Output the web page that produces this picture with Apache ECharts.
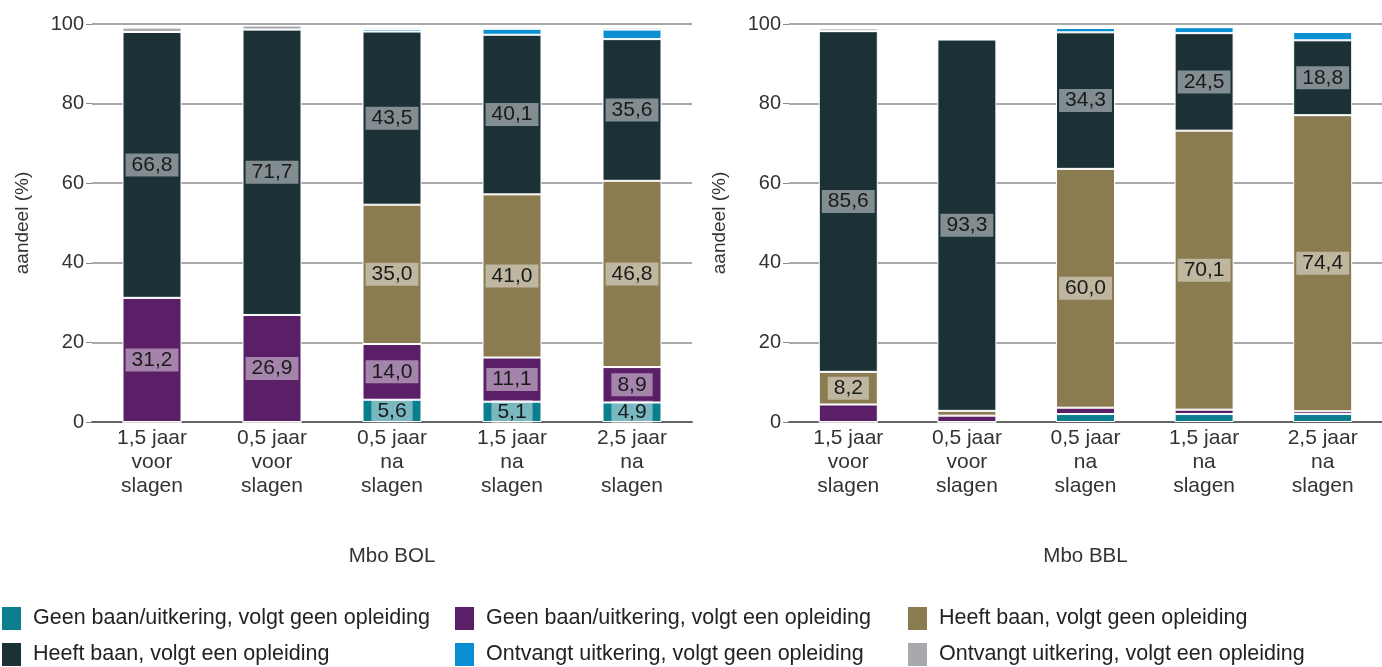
<!DOCTYPE html>
<html>
<head>
<meta charset="UTF-8">
<title>Mbo BOL / BBL</title>
<script src="https://cdn.jsdelivr.net/npm/echarts@6/dist/echarts.min.js"></script>
<style>
  html, body { margin: 0; padding: 0; background: #fff; }
  #main { width: 1382px; height: 667px; }
</style>
</head>
<body>
<div id="main"></div>
<script>
// categorieen (x-as)
var categories = ['1,5 jaar\nvoor\nslagen', '0,5 jaar\nvoor\nslagen', '0,5 jaar\nna\nslagen', '1,5 jaar\nna\nslagen', '2,5 jaar\nna\nslagen'];
var seriesNames = [
  'Geen baan/uitkering, volgt geen opleiding',
  'Geen baan/uitkering, volgt een opleiding',
  'Heeft baan, volgt geen opleiding',
  'Heeft baan, volgt een opleiding',
  'Ontvangt uitkering, volgt geen opleiding',
  'Ontvangt uitkering, volgt een opleiding'
];
var colors = ['#0b7f8e', '#5b1f67', '#8a7b51', '#1b3136', '#0a8fd3', '#a7a9ac'];

// Mbo BOL
var bolGeenGeen = [0, 0, 5.6, 5.1, 4.9];
var bolGeenEen = [31.2, 26.9, 14.0, 11.1, 8.9];
var bolBaanGeen = [0, 0, 35.0, 41.0, 46.8];
var bolBaanEen = [66.8, 71.7, 43.5, 40.1, 35.6];
var bolUitkGeen = [0, 0, 0.6, 1.5, 2.4];
var bolUitkEen = [1.1, 1.0, 0.5, 0.5, 0.5];

// Mbo BBL
var bblGeenGeen = [0, 0, 2.0, 2.0, 2.0];
var bblGeenEen = [4.4, 1.6, 1.6, 1.1, 0.7];
var bblBaanGeen = [8.2, 1.2, 60.0, 70.1, 74.4];
var bblBaanEen = [85.6, 93.3, 34.3, 24.5, 18.8];
var bblUitkGeen = [0, 0, 1.1, 1.5, 2.1];
var bblUitkEen = [0.7, 0, 0, 0, 0];

var yTicks = { min: 0, max: 100, interval: 20 };
var fontFam = '"Liberation Sans", Arial, sans-serif';

function makeData(arr) {
  return arr.map(function(v) {
    return { value: v, label: { show: v >= 4.8 } };
  });
}

function makeSeries(sets, idx) {
  return sets.map(function(arr, i) {
    return {
      name: seriesNames[i],
      type: 'bar',
      stack: 'stack' + idx,
      xAxisIndex: idx,
      yAxisIndex: idx,
      barWidth: 59,
      itemStyle: { color: colors[i], borderColor: '#fff', borderWidth: 1 },
      label: {
        position: 'inside',
        color: '#1a1a1a',
        fontSize: 21,
        fontFamily: fontFam,
        backgroundColor: 'rgba(255,255,255,0.45)',
        padding: [2, 6, 0, 6],
        formatter: function(p) { return p.value.toFixed(1).replace('.', ','); }
      },
      emphasis: { disabled: true },
      data: makeData(arr)
    };
  });
}

function yAxis(idx) {
  return {
    gridIndex: idx,
    type: 'value',
    min: yTicks.min,
    max: yTicks.max,
    interval: yTicks.interval,
    name: 'aandeel (%)',
    nameLocation: 'middle',
    nameRotate: 90,
    nameGap: 60,
    nameTextStyle: { fontSize: 19, color: '#333', fontFamily: fontFam },
    axisLine: { show: false },
    axisTick: { show: true, length: 6, lineStyle: { color: '#888', width: 1 } },
    axisLabel: { fontSize: 20, color: '#333', margin: 8, fontFamily: fontFam },
    splitLine: { show: true, lineStyle: { color: '#a9a9a9', width: 2 } }
  };
}

function xAxis(idx, title) {
  return {
    gridIndex: idx,
    type: 'category',
    data: categories,
    name: title,
    nameLocation: 'middle',
    nameGap: 124,
    nameTextStyle: { fontSize: 20.5, color: '#333', fontFamily: fontFam },
    axisLine: { show: true, lineStyle: { color: '#666', width: 2 } },
    axisTick: { show: false },
    axisLabel: { fontSize: 21, color: '#333', lineHeight: 24, margin: 4, fontFamily: fontFam, interval: 0 }
  };
}

// een legenda per item, vaste kolommen
var legendCols = [0, 453, 906];
var legendRows = [605, 641];
function legendItem(name, i) {
  return {
    orient: 'horizontal',
    left: legendCols[i % 3],
    top: legendRows[Math.floor(i / 3)],
    padding: 0,
    itemWidth: 21,
    itemHeight: 25,
    icon: 'rect',
    selectedMode: false,
    textStyle: { fontSize: 21.5, color: '#222', fontFamily: fontFam, padding: [3, 0, 0, 6] },
    data: [name]
  };
}

var chart = echarts.init(document.getElementById('main'));
var option = {
  animation: false,
  color: colors,
  grid: [
    { left: 92, top: 24, width: 600, height: 398 },
    { left: 789, top: 24, width: 600, height: 398 }
  ],
  legend: seriesNames.map(legendItem),
  xAxis: [xAxis(0, 'Mbo BOL'), xAxis(1, 'Mbo BBL')],
  yAxis: [yAxis(0), yAxis(1)],
  series: makeSeries([bolGeenGeen, bolGeenEen, bolBaanGeen, bolBaanEen, bolUitkGeen, bolUitkEen], 0)
    .concat(makeSeries([bblGeenGeen, bblGeenEen, bblBaanGeen, bblBaanEen, bblUitkGeen, bblUitkEen], 1))
};
chart.setOption(option);
</script>
</body>
</html>
